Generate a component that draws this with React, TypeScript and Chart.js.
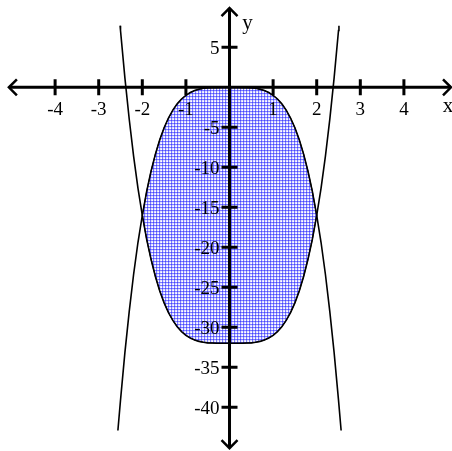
import React, { useEffect, useRef } from "react";
import { Chart, registerables } from "chart.js";
Chart.register(...registerables);

// Curve 1 (the steep upward-opening curve, bottom of shaded region)
const curveAX = [-2.51, -2.5, -2.4, -2.3, -2.2, -2.1, -2, -1.9, -1.8, -1.7, -1.6, -1.5, -1.4, -1.3, -1.2, -1.1, -1, -0.9, -0.8, -0.7, -0.6, -0.5, -0.4, -0.3, -0.2, -0.1, 0, 0.1, 0.2, 0.3, 0.4, 0.5, 0.6, 0.7, 0.8, 0.9, 1, 1.1, 1.2, 1.3, 1.4, 1.5, 1.6, 1.7, 1.8, 1.9, 2, 2.1, 2.2, 2.3, 2.4, 2.5, 2.51];
const curveAY = [7.7, 7.1, 1.2, -4.0, -8.6, -12.6, -16, -19.0, -21.5, -23.65, -25.45, -26.94, -28.16, -29.14, -29.93, -30.54, -31, -31.34, -31.59, -31.76, -31.87, -31.94, -31.97, -31.99, -32, -32, -32, -32, -32, -31.99, -31.97, -31.94, -31.87, -31.76, -31.59, -31.34, -31, -30.54, -29.93, -29.14, -28.16, -26.94, -25.45, -23.65, -21.5, -19.0, -16, -12.6, -8.6, -4.0, 1.2, 7.1, 7.7];

// Curve 2 (the downward-opening curve, top of shaded region)
const curveBX = [-2.56, -2.5, -2.4, -2.3, -2.2, -2.1, -2, -1.9, -1.8, -1.7, -1.6, -1.5, -1.4, -1.3, -1.2, -1.1, -1, -0.9, -0.8, -0.7, -0.6, -0.5, -0.4, -0.3, -0.2, -0.1, 0, 0.1, 0.2, 0.3, 0.4, 0.5, 0.6, 0.7, 0.8, 0.9, 1, 1.1, 1.2, 1.3, 1.4, 1.5, 1.6, 1.7, 1.8, 1.9, 2, 2.1, 2.2, 2.3, 2.4, 2.5, 2.56];
const curveBY = [-42.9, -39.1, -33.2, -28.0, -23.4, -19.4, -16, -13.0, -10.5, -8.35, -6.55, -5.06, -3.84, -2.86, -2.07, -1.46, -1, -0.66, -0.41, -0.24, -0.13, -0.06, -0.03, -0.01, 0, 0, 0, 0, 0, -0.01, -0.03, -0.06, -0.13, -0.24, -0.41, -0.66, -1, -1.46, -2.07, -2.86, -3.84, -5.06, -6.55, -8.35, -10.5, -13.0, -16, -19.4, -23.4, -28.0, -33.2, -39.1, -42.9];

// Shaded region bounds
const regionXMin = -2;
const regionXMax = 2;

// Tick values / labels
const xTicks = [-4, -3, -2, -1, 1, 2, 3, 4];
const xTickLabels = ["-4", "-3", "-2", "-1", "1", "2", "3", "4"];
const yTicks = [5, -5, -10, -15, -20, -25, -30, -35, -40];
const yTickLabels = ["5", "-5", "-10", "-15", "-20", "-25", "-30", "-35", "-40"];

// View range and axis extents
const viewX = [-5.264, 5.103];
const viewY = [-45.46, 10.91];
const axisX = [-5.06, 5.08];
const axisY = [-45.1, 9.9];

function makePattern(): CanvasPattern | string {
  const t = document.createElement("canvas");
  t.width = 3;
  t.height = 3;
  const c = t.getContext("2d");
  if (!c) return "#9a9af5";
  const cols = [
    ["#4646ff", "#7c7cff", "#7c7cff"],
    ["#7c7cff", "#dcdcff", "#e6e6ff"],
    ["#7c7cff", "#e6e6ff", "#ffffff"],
  ];
  for (let r = 0; r < 3; r++)
    for (let q = 0; q < 3; q++) {
      c.fillStyle = cols[r][q];
      c.fillRect(q, r, 1, 1);
    }
  const ctx = document.createElement("canvas").getContext("2d");
  return ctx?.createPattern(t, "repeat") || "#9a9af5";
}

const axesPlugin = {
  id: "mathAxes",
  afterDatasetsDraw(chart: any) {
    const { ctx } = chart;
    const xs = chart.scales.x;
    const ys = chart.scales.y;
    const x0 = xs.getPixelForValue(0);
    const y0 = ys.getPixelForValue(0);
    ctx.save();
    ctx.strokeStyle = "#000";
    ctx.fillStyle = "#000";
    ctx.lineWidth = 3;
    ctx.lineCap = "butt";
    const xl = xs.getPixelForValue(axisX[0]);
    const xr = xs.getPixelForValue(axisX[1]);
    const yt = ys.getPixelForValue(axisY[1]);
    const yb = ys.getPixelForValue(axisY[0]);
    ctx.beginPath();
    ctx.moveTo(xl, y0);
    ctx.lineTo(xr, y0);
    ctx.moveTo(x0, yt);
    ctx.lineTo(x0, yb);
    ctx.stroke();
    // arrows
    const a = 8;
    ctx.lineWidth = 2.5;
    ctx.beginPath();
    ctx.moveTo(xl + a, y0 - a);
    ctx.lineTo(xl, y0);
    ctx.lineTo(xl + a, y0 + a);
    ctx.moveTo(xr - a, y0 - a);
    ctx.lineTo(xr, y0);
    ctx.lineTo(xr - a, y0 + a);
    ctx.moveTo(x0 - a, yt + a);
    ctx.lineTo(x0, yt);
    ctx.lineTo(x0 + a, yt + a);
    ctx.moveTo(x0 - a, yb - a);
    ctx.lineTo(x0, yb);
    ctx.lineTo(x0 + a, yb - a);
    ctx.stroke();
    // ticks
    ctx.lineWidth = 3;
    ctx.beginPath();
    xTicks.forEach((v) => {
      const p = xs.getPixelForValue(v);
      ctx.moveTo(p, y0 - 8);
      ctx.lineTo(p, y0 + 8);
    });
    yTicks.forEach((v) => {
      const p = ys.getPixelForValue(v);
      ctx.moveTo(x0 - 8, p);
      ctx.lineTo(x0 + 8, p);
    });
    ctx.stroke();
    // labels
    ctx.font = '19px "Liberation Serif", "Times New Roman", serif';
    ctx.textAlign = "center";
    ctx.textBaseline = "middle";
    xTicks.forEach((v, i) => {
      const p = xs.getPixelForValue(v);
      ctx.fillText(xTickLabels[i], p, y0 + 23);
    });
    ctx.textAlign = "right";
    yTicks.forEach((v, i) => {
      const p = ys.getPixelForValue(v);
      ctx.fillText(yTickLabels[i], x0 - 10, p + 2);
    });
    ctx.textAlign = "center";
    ctx.font = '21px "Liberation Serif", "Times New Roman", serif';
    ctx.fillText("x", xr - 3, y0 + 19);
    ctx.fillText("y", x0 + 18, yt + 15);
    ctx.restore();
  },
};

export default function App() {
  const ref = useRef<HTMLCanvasElement | null>(null);
  useEffect(() => {
    if (!ref.current) return;
    const curveA = curveAX.map((x, i) => ({ x, y: curveAY[i] }));
    const curveB = curveBX.map((x, i) => ({ x, y: curveBY[i] }));
    const top = curveB.filter((p) => p.x >= regionXMin && p.x <= regionXMax);
    const bottom = curveA
      .filter((p) => p.x >= regionXMin && p.x <= regionXMax)
      .reverse();
    const region = [...top, ...bottom];
    const chart = new Chart(ref.current, {
      type: "line",
      data: {
        datasets: [
          {
            data: region,
            fill: "shape",
            backgroundColor: makePattern() as any,
            borderColor: "#000",
            borderWidth: 1,
            pointRadius: 0,
            tension: 0,
            order: 3,
          },
          {
            data: curveA,
            borderColor: "#000",
            borderWidth: 1.6,
            pointRadius: 0,
            fill: false,
            tension: 0,
            order: 1,
          },
          {
            data: curveB,
            borderColor: "#000",
            borderWidth: 1.6,
            pointRadius: 0,
            fill: false,
            tension: 0,
            order: 2,
          },
        ],
      },
      options: {
        animation: false,
        responsive: false,
        devicePixelRatio: 1,
        layout: { padding: 0 },
        plugins: { legend: { display: false }, tooltip: { enabled: false } },
        scales: {
          x: { type: "linear", min: viewX[0], max: viewX[1], display: false },
          y: { type: "linear", min: viewY[0], max: viewY[1], display: false },
        },
      },
      plugins: [axesPlugin],
    });
    return () => chart.destroy();
  }, []);
  return (
    <div style={{ position: "absolute", left: 0, top: 0, width: 452, height: 451, background: "#fff" }}>
      <canvas ref={ref} width={452} height={451} style={{ display: "block" }} />
    </div>
  );
}
